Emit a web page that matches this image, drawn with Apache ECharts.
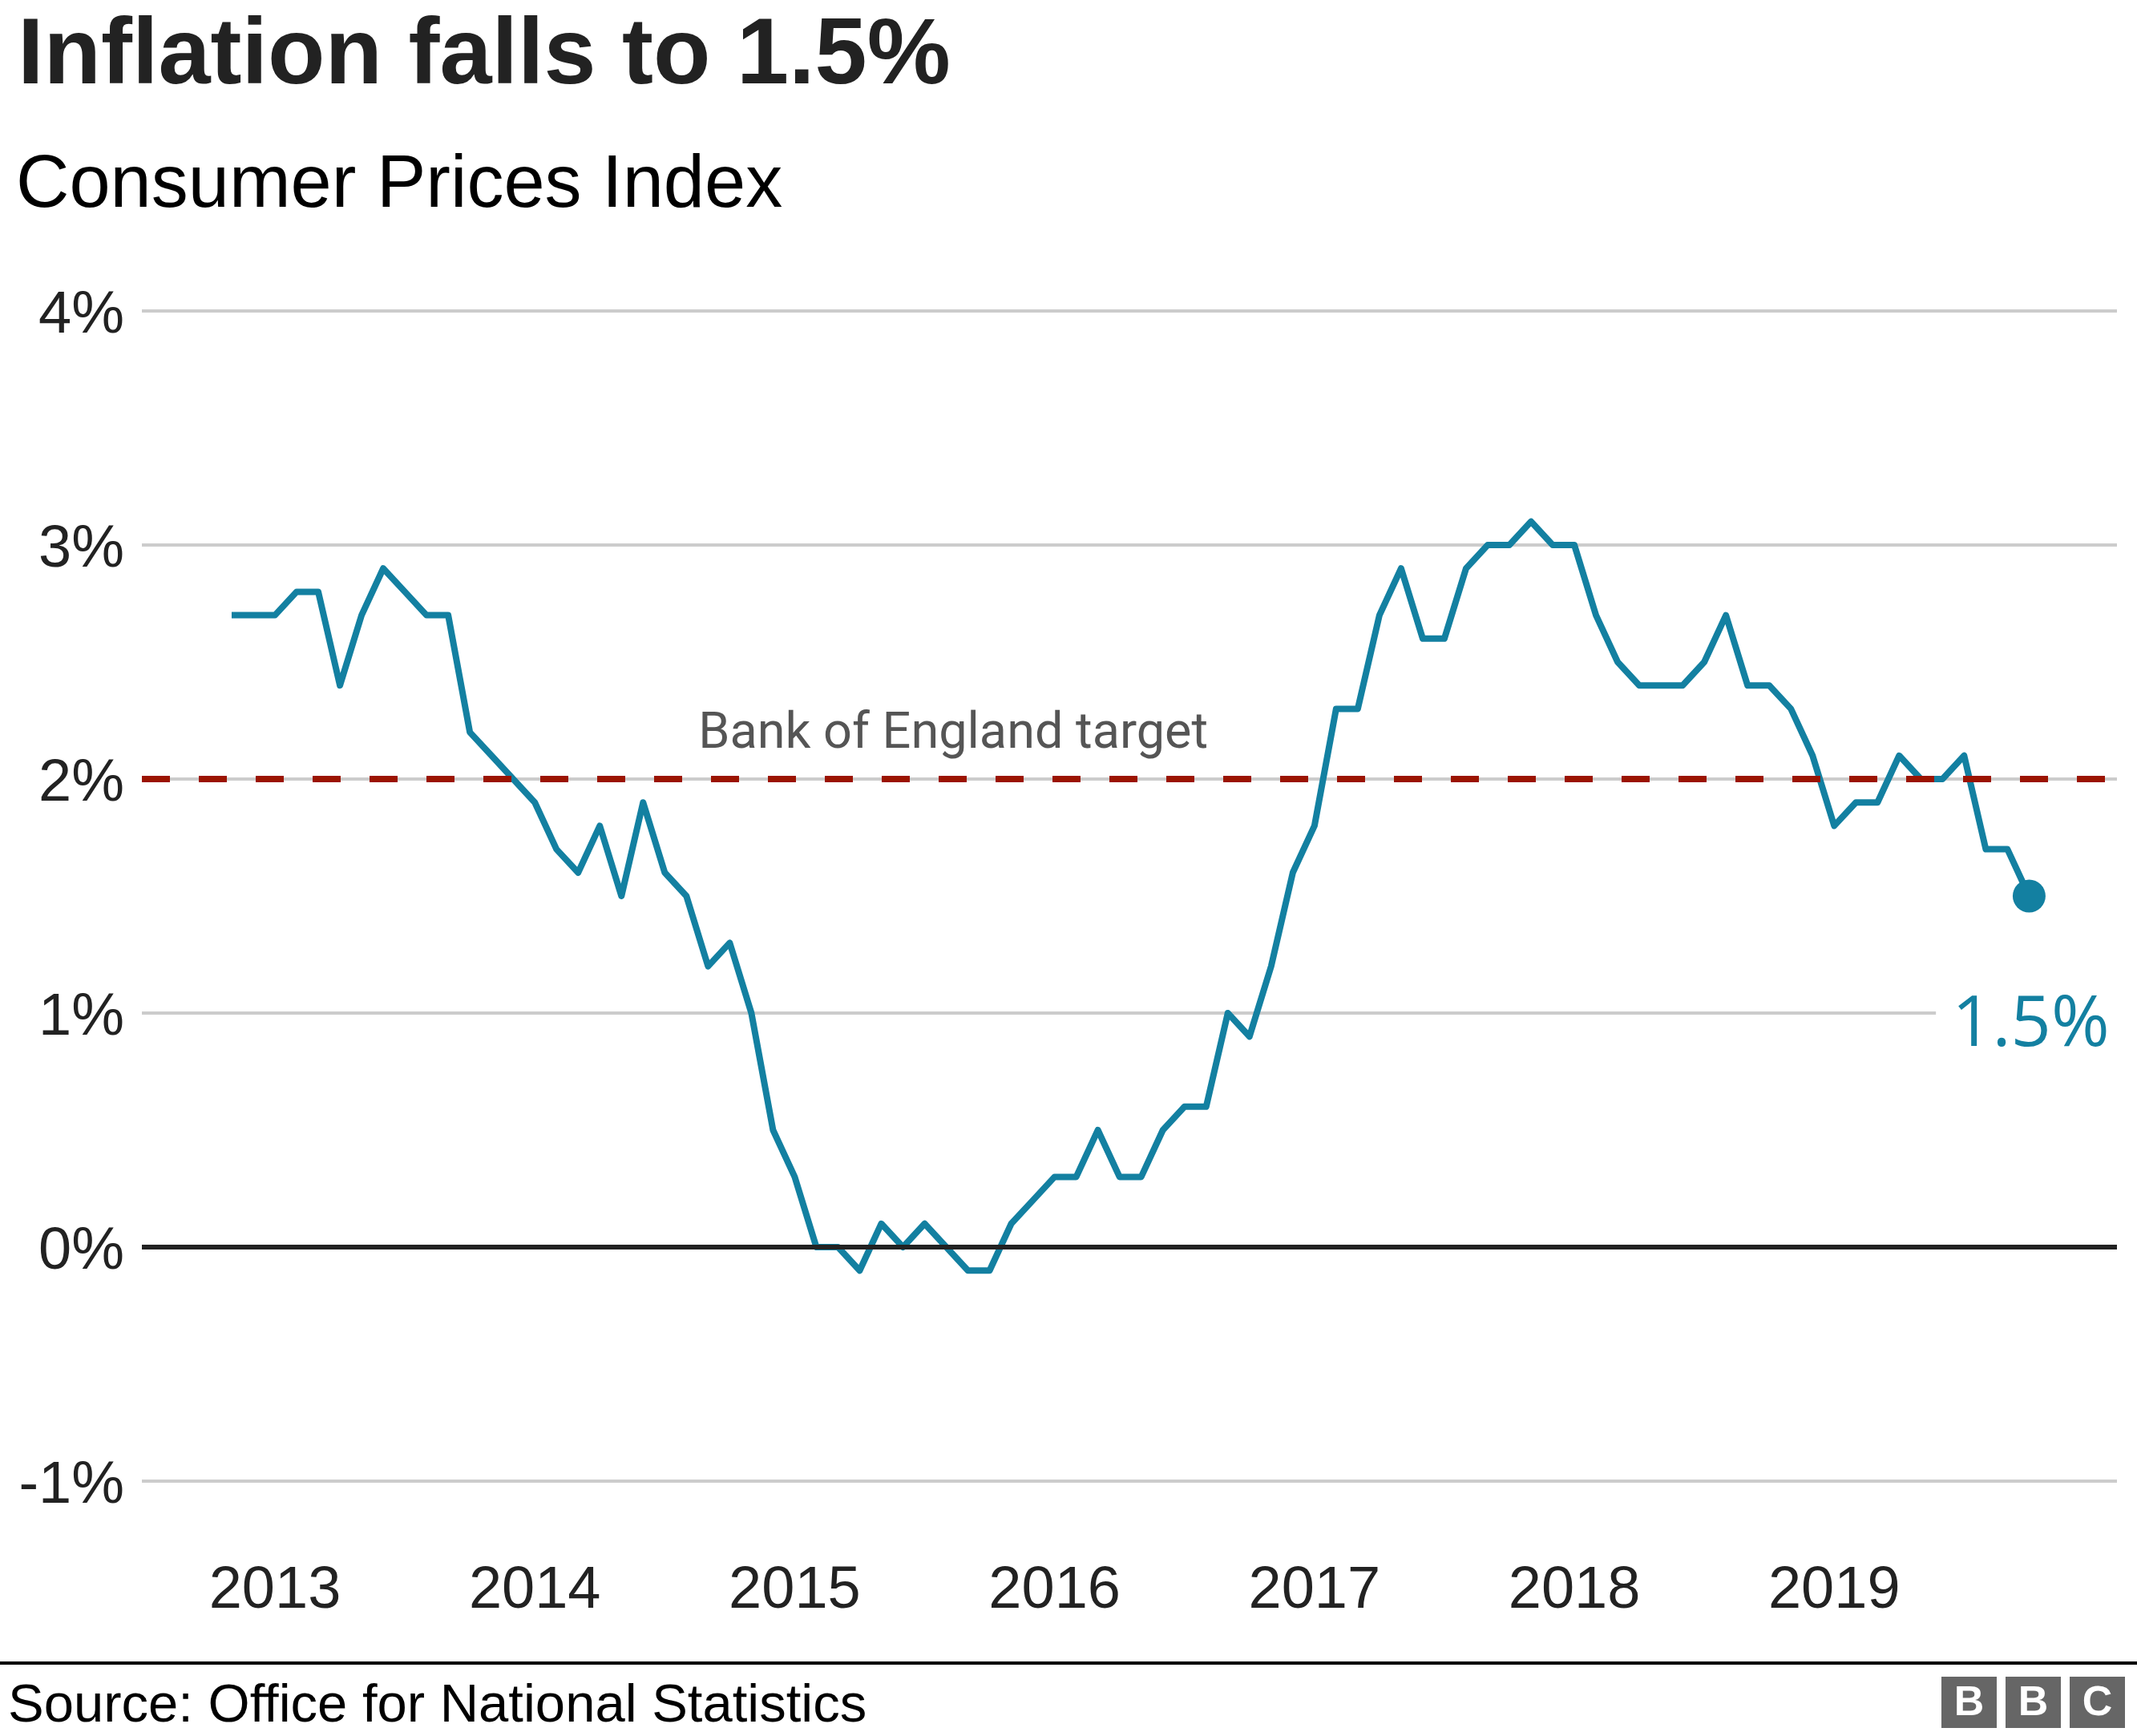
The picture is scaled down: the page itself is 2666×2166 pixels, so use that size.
<!DOCTYPE html>
<html>
<head>
<meta charset="utf-8">
<script src="https://cdn.jsdelivr.net/npm/echarts@6/dist/echarts.min.js"></script>
<style>
html,body{margin:0;padding:0;background:#fff;}
#chart{width:2666px;height:2166px;}
</style>
</head>
<body>
<div id="chart"></div>
<script>
// ---- Data (UK CPI annual rate, %) ----
const months = [
  '2012-11','2012-12',
  '2013-01','2013-02','2013-03','2013-04','2013-05','2013-06','2013-07','2013-08','2013-09','2013-10','2013-11','2013-12',
  '2014-01','2014-02','2014-03','2014-04','2014-05','2014-06','2014-07','2014-08','2014-09','2014-10','2014-11','2014-12',
  '2015-01','2015-02','2015-03','2015-04','2015-05','2015-06','2015-07','2015-08','2015-09','2015-10','2015-11','2015-12',
  '2016-01','2016-02','2016-03','2016-04','2016-05','2016-06','2016-07','2016-08','2016-09','2016-10','2016-11','2016-12',
  '2017-01','2017-02','2017-03','2017-04','2017-05','2017-06','2017-07','2017-08','2017-09','2017-10','2017-11','2017-12',
  '2018-01','2018-02','2018-03','2018-04','2018-05','2018-06','2018-07','2018-08','2018-09','2018-10','2018-11','2018-12',
  '2019-01','2019-02','2019-03','2019-04','2019-05','2019-06','2019-07','2019-08','2019-09','2019-10'
];
const cpi = [
  2.7,2.7,
  2.7,2.8,2.8,2.4,2.7,2.9,2.8,2.7,2.7,2.2,2.1,2.0,
  1.9,1.7,1.6,1.8,1.5,1.9,1.6,1.5,1.2,1.3,1.0,0.5,
  0.3,0.0,0.0,-0.1,0.1,0.0,0.1,0.0,-0.1,-0.1,0.1,0.2,
  0.3,0.3,0.5,0.3,0.3,0.5,0.6,0.6,1.0,0.9,1.2,1.6,
  1.8,2.3,2.3,2.7,2.9,2.6,2.6,2.9,3.0,3.0,3.1,3.0,
  3.0,2.7,2.5,2.4,2.4,2.4,2.5,2.7,2.4,2.4,2.3,2.1,
  1.8,1.9,1.9,2.1,2.0,2.0,2.1,1.7,1.7,1.5
];
const yearTicks = [2013, 2014, 2015, 2016, 2017, 2018, 2019];
const yTicks = [-1, 0, 1, 2, 3, 4];
const targetValue = 2;
const targetLabel = 'Bank of England target';
const targetLabelX = 2015.61;

// ---- Helpers ----
function toX(m) {
  const p = m.split('-');
  return Number(p[0]) + (Number(p[1]) - 1) / 12;
}
const lineData = months.map((m, i) => [toX(m), cpi[i]]);
const lastIdx = cpi.length - 1;
const lastPoint = [toX(months[lastIdx]), cpi[lastIdx]];

const TEAL = '#1380A1';
const chart = echarts.init(document.getElementById('chart'), null, {renderer: 'canvas'});

chart.setOption({
  backgroundColor: '#ffffff',
  animation: false,
  grid: {left: 177, right: 25, top: 388, bottom: 318, containLabel: false},
  xAxis: {
    type: 'value',
    min: 2012.488,
    max: 2020.088,
    axisLine: {show: false},
    axisTick: {show: false},
    splitLine: {show: false},
    axisLabel: {
      customValues: yearTicks,
      formatter: v => String(v),
      fontSize: 74,
      color: '#222',
      fontFamily: '"Liberation Sans", Arial, sans-serif',
      margin: 138,
      verticalAlign: 'middle'
    }
  },
  yAxis: {
    type: 'value',
    min: -1,
    max: 4,
    interval: 1,
    axisLine: {show: false},
    axisTick: {show: false},
    splitLine: {show: true, lineStyle: {color: '#cccccc', width: 4}},
    axisLabel: {
      customValues: yTicks,
      formatter: v => v + '%',
      fontSize: 74,
      color: '#222',
      fontFamily: '"Liberation Sans", Arial, sans-serif',
      margin: 22,
      verticalAlign: 'top',
      lineHeight: 14
    }
  },
  series: [
    {
      name: 'refs',
      type: 'line',
      data: [],
      z: 2,
      markLine: {
        silent: true,
        symbol: 'none',
        label: {show: false},
        data: [
          {yAxis: 0, lineStyle: {color: '#222222', width: 6, type: 'solid'}},
          {yAxis: targetValue, lineStyle: {color: '#9b1400', width: 8, type: [35, 36]}}
        ]
      },
      markPoint: {
        silent: true,
        symbol: 'circle',
        symbolSize: 0,
        data: [{coord: [targetLabelX, targetValue], value: targetLabel}],
        label: {
          show: true,
          position: 'inside',
          offset: [0, -55],
          formatter: targetLabel,
          fontSize: 63,
          color: '#555555',
          fontFamily: 'Roboto, "Open Sans", sans-serif'
        }
      }
    },
    {
      name: 'CPI',
      type: 'line',
      data: lineData,
      z: 3,
      symbol: 'none',
      lineStyle: {color: TEAL, width: 8, join: 'round'},
      itemStyle: {color: TEAL}
    },
    {
      name: 'latest',
      type: 'scatter',
      z: 4,
      data: [lastPoint],
      symbol: 'circle',
      symbolSize: 41,
      itemStyle: {color: TEAL, opacity: 1},
      label: {
        show: true,
        position: 'inside',
        offset: [2, 162],
        formatter: p => p.value[1] + '%',
        fontSize: 88,
        color: TEAL,
        fontFamily: '"Open Sans", "Noto Sans", sans-serif',
        backgroundColor: '#ffffff',
        padding: [0, 20]
      }
    }
  ],
  graphic: [
    {type: 'text', x: 22, y: 72, style: {text: 'Inflation falls to 1.5%', fill: '#222222', font: 'bold 117px "Liberation Sans", Arial, sans-serif', verticalAlign: 'middle', textVerticalAlign: 'middle'}},
    {type: 'text', x: 20, y: 233, style: {text: 'Consumer Prices Index', fill: '#000000', font: '92px "Liberation Sans", Arial, sans-serif', verticalAlign: 'middle', textVerticalAlign: 'middle'}},
    {type: 'rect', shape: {x: 0, y: 2073, width: 2666, height: 4}, style: {fill: '#000000'}},
    {type: 'text', x: 10, y: 2130, style: {text: 'Source: Office for National Statistics', fill: '#000000', font: '67px "Liberation Sans", Arial, sans-serif', verticalAlign: 'middle', textVerticalAlign: 'middle'}},
    {type: 'rect', shape: {x: 2422, y: 2092, width: 69, height: 64}, style: {fill: '#666666'}},
    {type: 'rect', shape: {x: 2502, y: 2092, width: 69, height: 64}, style: {fill: '#666666'}},
    {type: 'rect', shape: {x: 2582, y: 2092, width: 69, height: 64}, style: {fill: '#666666'}},
    {type: 'text', x: 2456.5, y: 2126, style: {text: 'B', fill: '#ffffff', font: 'bold 52px "Liberation Sans", Arial, sans-serif', align: 'center', textAlign: 'center', verticalAlign: 'middle', textVerticalAlign: 'middle'}},
    {type: 'text', x: 2536.5, y: 2126, style: {text: 'B', fill: '#ffffff', font: 'bold 52px "Liberation Sans", Arial, sans-serif', align: 'center', textAlign: 'center', verticalAlign: 'middle', textVerticalAlign: 'middle'}},
    {type: 'text', x: 2616.5, y: 2126, style: {text: 'C', fill: '#ffffff', font: 'bold 52px "Liberation Sans", Arial, sans-serif', align: 'center', textAlign: 'center', verticalAlign: 'middle', textVerticalAlign: 'middle'}}
  ]
});
</script>
</body>
</html>
